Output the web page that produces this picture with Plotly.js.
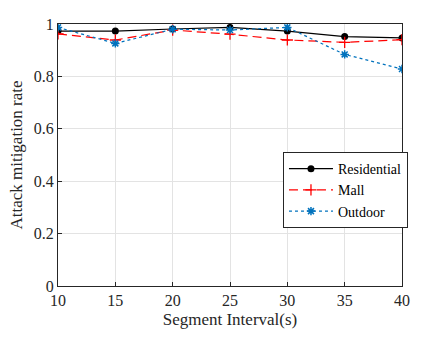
<!DOCTYPE html>
<html>
<head>
<meta charset="utf-8">
<script src="https://cdn.plot.ly/plotly-3.0.1.min.js"></script>
<style>body{margin:0;padding:0;background:#fff}#chart{width:443px;height:338px}</style>
</head>
<body>
<div id="chart"></div>
<script>
const intervals = [10, 15, 20, 25, 30, 35, 40];
const residential = [0.973, 0.973, 0.981, 0.987, 0.973, 0.952, 0.947];
const mall = [0.962, 0.939, 0.977, 0.961, 0.939, 0.930, 0.940];
const outdoor = [0.987, 0.926, 0.980, 0.977, 0.987, 0.884, 0.828];

const serif = "Liberation Serif";

const data = [
  { x: intervals, y: residential, name: "Residential", mode: "lines+markers",
    line: { color: "#000", width: 1.2 }, marker: { symbol: "circle", size: 7, color: "#000" } },
  { x: intervals, y: mall, name: "Mall", mode: "lines+markers",
    line: { color: "#ff0000", width: 1.2, dash: "9px,5px" },
    marker: { symbol: "cross-thin", size: 8, line: { color: "#ff0000", width: 1.3 } } },
  { x: intervals, y: outdoor, name: "Outdoor", mode: "lines+markers",
    line: { color: "#0072bd", width: 1.2, dash: "dot" },
    marker: { symbol: "asterisk", size: 7, line: { color: "#0072bd", width: 1.5 } } }
];

const axisCommon = {
  showline: true, mirror: true, linecolor: "#262626", linewidth: 1,
  ticks: "inside", ticklen: 4, tickcolor: "#262626",
  showgrid: true, gridcolor: "#e3e3e3", zeroline: false,
  tickfont: { family: serif, size: 16, color: "#262626" }
};

const layout = {
  width: 443, height: 338,
  margin: { l: 58, r: 41, t: 24, b: 52 },
  paper_bgcolor: "#fff", plot_bgcolor: "#fff",
  font: { family: serif, color: "#262626" },
  xaxis: Object.assign({}, axisCommon, {
    range: [10, 40], tickvals: intervals,
    title: { text: "Segment Interval(s)", font: { family: serif, size: 17 }, standoff: 4 }
  }),
  yaxis: Object.assign({}, axisCommon, {
    range: [0, 1], tickvals: [0, 0.2, 0.4, 0.6, 0.8, 1], ticktext: ["0", "0.2", "0.4", "0.6", "0.8", "1"],
    title: { text: "Attack mitigation rate", font: { family: serif, size: 17 }, standoff: 6 }
  }),
  legend: {
    x: 0.654, xanchor: "left", y: 0.511, yanchor: "top",
    bgcolor: "#fff", bordercolor: "#262626", borderwidth: 1,
    font: { family: serif, size: 14, color: "#000" },
    tracegroupgap: 0, itemwidth: 44
  },
  showlegend: true
};

Plotly.newPlot("chart", data, layout, { displayModeBar: false, staticPlot: true });
</script>
</body>
</html>
